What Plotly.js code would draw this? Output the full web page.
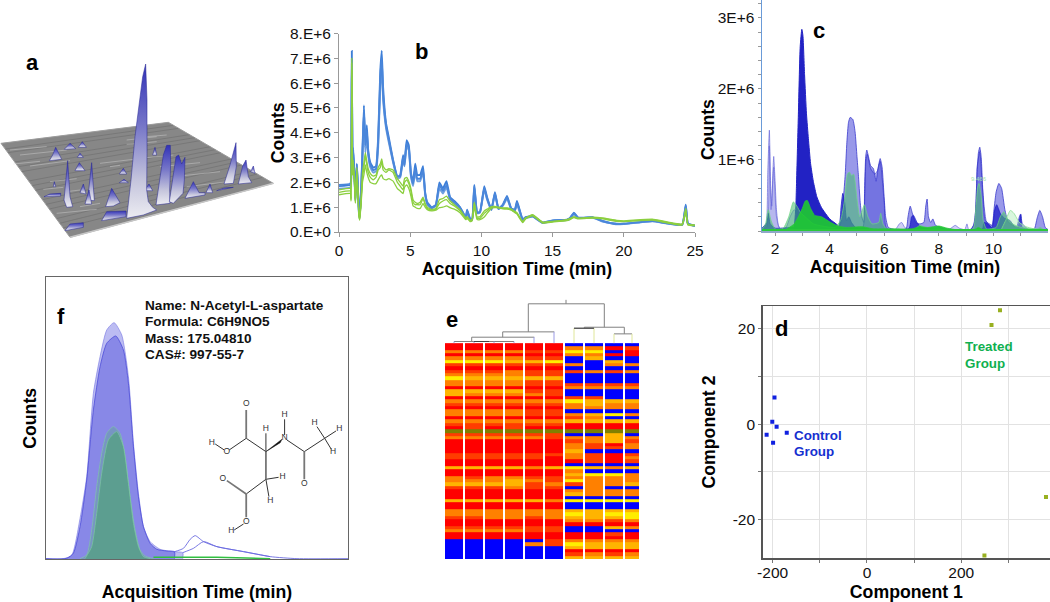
<!DOCTYPE html>
<html><head><meta charset="utf-8">
<script src="https://cdn.plot.ly/plotly-3.0.1.min.js"></script>
<style>html,body{margin:0;padding:0;background:#fff}</style></head>
<body><div id="chart" style="width:1050px;height:602px"></div>
<script>
const FONT='"Liberation Sans", Arial, sans-serif';
// ---------- panel b ----------
const bTime=[0,0.8,0.85,0.9,0.95,1.0,1.1,1.15,1.25,1.3,
1.4,1.45,1.55,1.65,1.75,1.85,1.95,2.05,2.2,2.4,
2.6,2.75,2.9,3.0,3.1,3.3,3.5,3.8,4.1,4.3,
4.5,4.6,4.75,4.9,5.05,5.2,5.35,5.5,5.7,5.9,
6.05,6.2,6.5,6.8,7.05,7.3,7.55,7.8,8.1,8.5,
8.9,9.0,9.2,9.35,9.5,9.7,9.9,10.2,10.4,10.7,
10.95,11.2,11.5,11.8,12.1,12.35,12.5,12.9,13.1,13.6,
14.3,15,16,16.2,16.5,16.8,17.8,18.5,19.5,20,
22,24.1,24.35,24.5,25];
const bBlue1=[1.85,1.9,2.15,7.3,3.0,3.3,2.1,1.3,2.75,2.2,
0.8,0.6,1.6,3.3,5.1,3.4,4.3,3.3,2.8,2.6,
2.65,3.8,6.5,7.3,5.8,4.4,3.8,2.9,2.2,2.3,
3.1,2.8,3.7,3.5,2.4,2.0,2.75,2.3,2.3,2.65,
1.6,1.2,1.0,1.1,2.0,1.75,2.05,1.4,1.25,1.0,
0.6,0.9,0.55,0.5,1.9,0.8,0.8,1.85,1.4,0.9,
1.6,0.95,1.1,1.45,0.95,0.9,1.25,0.5,0.6,0.65,
0.38,0.47,0.5,0.55,0.78,0.58,0.6,0.45,0.33,0.33,
0.45,0.3,1.1,0.35,0.25];
const bBlue2=[1.75,1.8,2.0,6.8,2.9,3.1,2.0,1.25,2.6,2.1,
0.75,0.55,1.5,3.1,4.7,3.2,3.9,3.1,2.6,2.4,
2.45,3.4,5.9,6.6,5.3,4.2,3.6,2.8,2.15,2.2,
2.9,2.65,3.45,3.3,2.25,1.85,2.4,2.05,2.05,2.4,
1.5,1.1,0.95,1.05,1.75,1.55,1.8,1.3,1.15,0.95,
0.55,0.8,0.5,0.48,1.75,0.75,0.78,1.7,1.3,0.88,
1.5,0.92,1.05,1.35,0.9,0.85,1.1,0.48,0.55,0.62,
0.36,0.45,0.48,0.52,0.72,0.56,0.58,0.42,0.31,0.32,
0.43,0.28,1.0,0.33,0.24];
const bBlue3=[1.9,1.95,2.1,7.0,3.2,3.4,2.2,1.35,2.7,2.15,
0.85,0.65,1.55,3.2,4.9,3.5,4.1,3.2,2.7,2.5,
2.55,3.6,6.2,7.0,5.5,4.3,3.7,2.85,2.25,2.25,
3.0,2.7,3.55,3.4,2.3,1.95,2.55,2.15,2.15,2.5,
1.55,1.15,0.97,1.08,1.9,1.65,1.9,1.35,1.2,0.98,
0.58,0.85,0.52,0.5,1.85,0.78,0.8,1.78,1.35,0.9,
1.55,0.93,1.08,1.4,0.92,0.88,1.18,0.5,0.58,0.63,
0.37,0.46,0.49,0.53,0.75,0.57,0.59,0.44,0.32,0.33,
0.44,0.29,1.05,0.34,0.25];
const bGreen1=[1.6,1.65,1.3,7.0,2.5,2.8,1.9,1.2,2.5,1.9,
0.7,0.5,1.2,2.2,2.6,3.1,2.7,2.4,2.2,2.1,
2.2,2.5,2.6,2.85,2.5,2.4,2.5,2.4,2.0,1.85,
1.7,2.0,2.1,1.95,1.65,1.2,1.1,1.1,1.1,1.35,
1.1,0.95,0.88,0.92,1.15,1.25,1.3,1.15,1.05,0.85,
0.55,0.6,0.45,0.5,1.15,0.55,0.55,0.75,0.85,1.0,
1.0,0.98,0.95,0.95,0.9,0.8,0.75,0.4,0.55,0.68,
0.38,0.42,0.48,0.52,0.6,0.55,0.58,0.55,0.45,0.43,
0.5,0.3,0.9,0.3,0.27];
const bGreen2=[1.5,1.55,1.25,6.5,2.3,2.6,1.8,1.15,2.35,1.8,
0.65,0.48,1.1,2.0,2.3,2.7,2.4,2.2,2.0,1.95,
1.95,2.1,2.25,2.3,2.15,2.1,2.15,2.05,1.75,1.65,
1.55,1.8,1.9,1.75,1.45,1.05,1.0,0.95,0.95,1.15,
1.0,0.9,0.85,0.88,0.98,1.0,1.05,0.98,0.92,0.78,
0.5,0.55,0.42,0.45,1.0,0.5,0.5,0.6,0.75,0.95,
0.98,0.97,0.93,0.92,0.88,0.78,0.72,0.38,0.52,0.65,
0.36,0.4,0.46,0.5,0.58,0.53,0.56,0.53,0.43,0.42,
0.48,0.28,0.8,0.28,0.26];
const bGreen3=[1.7,1.75,1.35,6.8,2.7,2.9,2.0,1.25,2.6,2.0,
0.75,0.52,1.3,2.4,2.8,3.2,2.85,2.55,2.35,2.25,
2.3,2.6,2.75,2.95,2.65,2.5,2.55,2.5,2.15,2.0,
1.85,2.15,2.2,2.05,1.75,1.3,1.2,1.15,1.2,1.4,
1.15,1.0,0.9,0.95,1.3,1.35,1.45,1.25,1.1,0.9,
0.58,0.62,0.48,0.52,1.2,0.6,0.62,0.85,0.92,1.02,
1.03,1.0,0.97,0.97,0.92,0.83,0.78,0.42,0.57,0.7,
0.4,0.43,0.5,0.54,0.62,0.56,0.6,0.57,0.47,0.45,
0.52,0.32,0.95,0.32,0.28];
const bTickVals=[0,1,2,3,4,5,6,7,8];
const bTickText=['0.E+0','1.E+6','2.E+6','3.E+6','4.E+6','5.E+6','6.E+6','7.E+6','8.E+6'];
const bXTicks=[0,5,10,15,20,25];
// ---------- panel c ----------
const cPale1X=[1.52,1.6,1.68,1.73,1.79,1.84,1.88,1.92,1.95,2.0,2.05,2.12,2.2,2.4,2.55,2.7,2.9,3.1,3.5,6.4,6.55,6.64,6.75,6.85,8.4,8.6,8.75,8.95,9.03,9.1,12];
const cPale1Y=[.02,.05,.1,.8,1.42,.6,.35,.85,1.05,.7,.3,.08,.03,.05,.2,.3,.2,.08,.03,.02,.1,.12,.05,.03,.03,.08,.04,.02,.1,.02,.02];
const cPale2X=[1.52,1.7,1.79,1.85,1.95,2.05,2.2,12];
const cPale2Y=[.02,.05,1.2,.3,.9,.2,.02,.02];
const cMid1X=[4.3,4.4,4.5,4.57,4.63,4.69,4.75,4.85,4.93,5.0,5.05,5.12,5.18,5.25,5.28,5.32,5.36,5.42,5.5,5.6,5.7,5.78,5.85,5.92,6.0,6.05,6.15,6.4,6.8,6.87,6.95,7.03,7.15,7.3,7.45,7.52,7.57,7.62,7.7,7.78,7.88,8.2,9.15,9.3,9.38,9.45,9.5,9.55,9.62,9.7,9.95,10.02,10.1,10.2,10.3,10.42,10.55,10.85,10.95,11,11.06,11.3,11.5,11.6,11.7,11.8,11.9,12];
const cMid1Y=[.02,.1,.45,.8,1.25,1.53,1.6,1.57,1.4,1.05,.8,.4,.2,.12,.6,1.05,1.14,1.05,.92,.88,.7,.9,1.02,.9,.45,.2,.05,.02,.03,.2,.35,.25,.12,.1,.12,.35,.45,.2,.12,.17,.08,.03,.02,.1,.6,1.1,1.18,1.05,.5,.15,.08,.3,.55,.67,.6,.3,.12,.06,.2,.24,.1,.02,.03,.18,.29,.2,.05,.02];
const cMid2X=[5.2,5.25,5.33,5.38,5.5,5.65,5.75,5.85,6.0,6.1,9.2,9.4,9.5,9.6,9.75,10.0];
const cMid2Y=[.02,.1,1.0,1.08,.88,.8,.85,.98,.4,.03,.03,.9,1.12,.6,.12,.02];
const cDeepX=[1.52,1.7,1.75,1.82,2.0,2.6,4.3,4.42,4.48,4.55,4.62,4.7,4.8,4.95,6.9,7.0,7.07,7.2,7.35,9.6,9.65,9.8,9.95,10.05,10.12,10.25,10.4,10.6,10.8,10.9,11,11.05,11.3,12];
const cDeepY=[.04,.12,.25,.1,.04,.05,.03,.35,.53,.4,.15,.2,.12,.05,.03,.2,.22,.12,.05,.03,.12,.1,.05,.3,.37,.25,.18,.15,.05,.05,.23,.05,.02,.02];
const cDarkX=[2.7,2.76,2.78,2.85,2.92,2.98,3.02,3.08,3.15,3.22,3.3,3.4,3.53,3.7,4.0,4.3,4.4];
const cDarkY=[.02,.34,.6,1.6,2.6,2.84,2.75,2.2,1.65,1.3,.95,.7,.48,.33,.17,.08,.02];
const cGreen1X=[1.52,1.65,1.75,1.85,2.0,2.3,2.5,2.67,2.8,2.95,3.1,3.4,4.2,4.4,4.55,4.65,4.72,4.8,4.88,5.0,5.1,5.2,5.27,5.4,5.55,5.8,5.87,5.95,6.1,7.1,7.3,7.5,9.25,9.35,9.42,9.47,9.55,9.62,9.75,10.1,10.25,10.38,10.5,10.7,11,11.6,11.72,11.85,12];
const cGreen1Y=[.02,.1,.3,.15,.03,.04,.2,.41,.35,.25,.2,.1,.05,.15,.45,.8,.83,.78,.8,.45,.2,.3,.37,.2,.1,.12,.25,.1,.02,.02,.08,.05,.03,.3,.6,.67,.5,.15,.03,.05,.2,.27,.18,.1,.05,.03,.05,.02,.02];
const cGreen2X=[2.4,2.7,2.85,3.0,3.1,3.18,3.3,3.45,3.7,4.0,4.3,4.6,5.2,5.6,6.2,7.0,7.3,7.6,8.0,8.3,8.7,9.3,9.45,9.6,10,11,12];
const cGreen2Y=[.02,.1,.2,.32,.42,.43,.32,.22,.2,.13,.07,.05,.06,.03,.03,.03,.06,.05,.07,.04,.015,.02,.05,.02,.02,.02,.02];
const cGreen3X=[10.3,10.45,10.62,10.75,10.95,11.2,11.6];
const cGreen3Y=[.03,.15,.29,.25,.12,.06,.02];
const cBaseX=[1.52,12];
const cBaseY=[.015,.015];
const cYTicks=[0,.2,.4,.6,.8,1,1.2,1.4,1.6,1.8,2,2.2,2.4,2.6,2.8,3,3.2];
const cYText=['','','','','','1E+6','','','','','2E+6','','','','','3E+6',''];
const cXTicks=[2,3,4,5,6,7,8,9,10,11];
const cXText=['2','','4','','6','','8','','10',''];
// ---------- panel d ----------
const controlC1=[-196,-200.7,-191.5,-212.7,-199,-170];
const controlC2=[5.6,0.5,-0.56,-2.24,-3.9,-1.8];
const treatedC1=[282,264,379.5,249];
const treatedC2=[23.9,20.8,-15.3,-27.6];
const dXTicks=[-200,-100,0,100,200,300];
const dXText=['-200','','0','','200',''];
const dYTicks=[-20,-10,0,10,20];
const dYText=['-20','','0','','20'];
// ---------- panel e ----------
const heatRows=["1111110000","1111113312","3333225501","1111113311","3333220400","5554450040","2222223033","1111110000","2223222323","3333220000",
"5444440000","3333220000","3333222222","1111113333","4444220000","4333320000","1111112200","3333335444","2222223433","1111113333",
"3333220000","3333223453","1111112300","3333334444","2222221111","1212111111","6666666666","2222220040","3333323343","1111112342",
"1111113213","1111113223","1111114000","2222223212","2222213213","1111111212","1111110000","4444345434","1111113000","1111114553",
"3233223333","3334325333","4444232334","2223220300","1111113333","1111114333","1111110000","4444435555","1111110000","1111110000",
"3333334444","3333335455","2233234445","1111113323","1111111111","2222220043","3333220000","1111111121","1111111111","0000023333",
"0000325444","0000004444","0000001111","0000002323","0000004444"];
const heatEdges=[-1,19,39,59,79,99,119,139,159,179,195];
const heatColors=['#0000ff','#ff0000','#ff3c00','#ff8000','#ffb400','#ffee00','#808000'];
const dendGrayX=[121,121,null,83.3,159.3,null,83.3,83.3,null,57.7,109.3,null,57.7,57.7,null,26.7,89.3,null,26.7,26.7,null,9,69,null,159.3,159.3,null,139.3,179.3,null,139.3,139.3,null,129,149,null,179.3,179.3,null,169,187];
const dendGrayY=[-13.55,-12.35,null,-12.35,-12.35,null,-12.35,-3.9,null,-3.9,-3.9,null,-3.9,-2.3,null,-2.3,-2.3,null,-2.3,-1,null,-1,-1,null,-12.35,-5.3,null,-5.3,-5.3,null,-5.3,-5,null,-5,-5,null,-5.3,-3.3,null,-3.3,-3.3];
const dendDarkX=[29,44,null,129,149];
const dendDarkY=[-1,-1,null,-5,-5];
const dendBlueX=[9,9,null,29,29,null,49,49,null,69,69,null,89,89,null,109,109];
const dendBlueY=[-1,-.5,null,-1,-.5,null,-1,-.5,null,-1,-.5,null,-2.3,-.5,null,-3.9,-.5];
const dendYellowX=[129,129,null,149,149,null,169,169,null,187,187];
const dendYellowY=[-5,-.5,null,-5,-.5,null,-3.3,-.5,null,-3.3,-.5];
// ---------- panel f ----------
const fOuterX=[48,100,125,150,170,190,210,230,252,275,295,310,325,340,360,390,430,458,458];
const fOuterH=[2,2,12,123,248,498,608,688,710,673,548,348,198,98,53,30,23,20,2];
const fInnerX=[48,110,130,150,170,190,210,230,257,280,295,310,325,340,360,380,410,433,433];
const fInnerH=[2,3,18,98,238,448,578,648,670,628,528,338,188,98,48,30,25,23,2];
const fGreenAX=[150,170,185,200,215,230,250,270,285,300,315,330,345,370];
const fGreenAH=[2,13,88,218,318,378,398,378,308,188,88,28,10,2];
const fGreenBX=[165,185,200,215,235,260,280,295,310,325,340,360];
const fGreenBH=[2,38,138,258,358,383,338,228,108,38,8,2];
const fBumpAX=[430,460,480,495,520,560,640,720,800,953];
const fBumpAH=[22,33,60,71,53,38,23,8,2,2];
const fBumpBX=[458,490,520,560,640,720];
const fBumpBH=[20,33,53,38,23,8];
const fBaseX=[370,560,720];
const fBaseH=[6,6,2];
const molThinX=[555,582,null,597,648,null,648,707,null,707,707,null,763,763,null,770,822,null,822,883,null,883,860,null,883,917,null,883,903,null,707,745,null,707,716,null,707,648,null,640,612];
const molThinZ=[522,540,null,540,505,null,505,545,null,545,490,null,495,448,null,510,545,null,545,505,null,505,470,null,505,483,null,505,538,null,628,622,null,628,680,null,628,672,null,762,780];
const molThickX=[648,648,null,822,822,null,648,590,null,707,707,null,648,648];
const molThickZ=[505,420,null,545,628,null,672,632,null,545,628,null,672,742];
const molWedgeX=[707,755,750,707];
const molWedgeZ=[545,508,518,545];
const molAtomX=[545,590,648,707,763,763,853,927,908,822,757,720,578,648,603];
const molAtomZ=[518,545,403,478,505,436,458,476,547,643,622,693,628,755,783];
const molAtomT=['H','O','O','H','N','H','H','H','H','O','H','H','O','O','H'];
const fInfo=['Name: N-Acetyl-L-aspartate','Formula: C6H9NO5','Mass: 175.04810','CAS#: 997-55-7'];
const fInfoZ=[107,156,205,254];
// ---------- panel a ----------
const plateX=[3,505,820,210,3];
const plateY=[310,247,430,592,310];
const darkStripes=[[24,338,536,265],[44,366,568,284],[65,395,600,302],[86,423,631,320],[106,451,662,338],[127,479,694,357],[148,507,725,375],[169,536,757,393],[189,564,788,412],[16,327,520,256],[55,380,584,293],[96,437,646,329],[138,493,710,366],[179,550,772,402]];
const stripes=[[30,330,140,320],[60,345,200,330],[380,313,470,305],[90,378,210,362],[40,372,120,364],[300,370,400,358],[420,355,520,345],[150,425,230,416],[480,380,600,368],
[540,408,660,395],[130,448,190,442],[240,500,300,490],[170,520,290,508],[560,440,700,423],[440,290,500,285],[380,300,470,290],[200,455,240,450],[330,380,360,376]];
const mainPeak={x:[380,393,405,418,428,437,441,441,440,445,458,470,430,380],y:[535,420,290,180,110,72,180,340,450,485,502,510,525,535]};
const peaks=[
{x:[468,478,490,500,511,512,509,510,468],y:[495,430,345,316,316,370,450,490,495]},
{x:[508,517,528,536,545,555,553,549,520,508],y:[485,420,350,345,372,352,420,460,490,485]},
{x:[672,690,708,709,700,672],y:[432,375,308,380,430,432]},
{x:[715,728,738,745,755,715],y:[432,378,360,410,428,432]},
{x:[752,760,765,752],y:[395,378,400,395]},
{x:[148,158,167,185,148],y:[362,345,322,358,362]},
{x:[193,210,227,193],y:[328,310,326,328]},
{x:[235,247,259,235],y:[322,305,322,322]},
{x:[232,240,250,232],y:[352,340,352,352]},
{x:[225,238,255,225],y:[392,368,392,392]},
{x:[192,203,210,218,200,192],y:[480,362,470,500,502,480]},
{x:[263,275,283,263],y:[480,368,482,480]},
{x:[317,335,360,340,317],y:[500,445,488,498,500]},
{x:[305,320,378,378,305],y:[542,515,513,530,542]},
{x:[195,210,250,250,195],y:[572,552,548,562,572]},
{x:[555,580,597,615,615,555],y:[475,425,458,458,465,475]},
{x:[433,447,458,433],y:[452,432,452,452]},
{x:[358,370,380,358],y:[402,385,402,402]},
{x:[358,372,385,358],y:[428,418,428,428]},
{x:[458,465,470,458],y:[345,322,345,345]},
{x:[160,163,167,160],y:[440,425,440,440]},
{x:[240,250,258,240],y:[458,432,462,458]},
{x:[255,267,275,255],y:[492,450,492,492]},
{x:[618,630,638,618],y:[458,432,458,458]},
{x:[650,672,700,650],y:[452,444,442,452]},
{x:[132,150,182,182,132],y:[470,462,460,468,470]}];

// ---------- layout helpers ----------
const W=1050,H=602;
const dx=(a,b)=>[a/W,b/W];
const dy=(top,bot)=>[1-bot/H,1-top/H];
const hidden={visible:false,fixedrange:true};
const traces=[];
// panel a
traces.push({type:'scatter',mode:'lines',x:plateX,y:plateY,fill:'toself',fillcolor:'#878787',line:{color:'#9c9c9c',width:1},xaxis:'x',yaxis:'y'});
darkStripes.forEach(s=>traces.push({type:'scatter',mode:'lines',x:[s[0],s[2]],y:[s[1],s[3]],line:{color:'rgba(70,70,70,0.3)',width:0.8},xaxis:'x',yaxis:'y'}));
stripes.forEach(s=>traces.push({type:'scatter',mode:'lines',x:[s[0],s[2]],y:[s[1],s[3]],line:{color:'rgba(220,220,220,0.5)',width:0.8},xaxis:'x',yaxis:'y'}));
traces.push({type:'scatter',mode:'lines',x:[210,820],y:[592,430],line:{color:'#c6c6c6',width:1.5},xaxis:'x',yaxis:'y'});
const peakScale=[[0,'#ececf2'],[0.25,'#c4c4dc'],[0.6,'#7676c8'],[1,'#3232b8']];
peaks.concat([mainPeak]).forEach(p=>traces.push({type:'scatter',mode:'lines',x:p.x,y:p.y,fill:'toself',
  fillgradient:{type:'vertical',colorscale:peakScale},line:{color:'rgba(40,40,150,0.75)',width:0.7},xaxis:'x',yaxis:'y'}));
// panel b
[bBlue1,bBlue2,bBlue3].forEach((v,i)=>traces.push({type:'scatter',mode:'lines',x:bTime,y:v,line:{color:['#3c7ed8','#6fa0e0','#4a86da'][i],width:1.9,shape:'spline',smoothing:0.35},xaxis:'x2',yaxis:'y2'}));
[bGreen1,bGreen2,bGreen3].forEach((v,i)=>traces.push({type:'scatter',mode:'lines',x:bTime,y:v,line:{color:'#8ccf3f',width:1.3,shape:'spline',smoothing:0.35},xaxis:'x2',yaxis:'y2'}));
// panel c
const cFill=(x,y,fc,lc,w)=>traces.push({type:'scatter',mode:'lines',x,y,fill:'tozeroy',fillcolor:fc,line:{color:lc,width:w,shape:'spline',smoothing:0.5},xaxis:'x3',yaxis:'y3'});
cFill(cPale1X,cPale1Y,'rgba(130,130,225,0.38)','rgba(95,95,215,0.8)',0.8);
cFill(cPale2X,cPale2Y,'rgba(130,130,225,0.3)','rgba(95,95,215,0.7)',0.8);
cFill(cMid1X,cMid1Y,'rgba(70,70,215,0.55)','rgba(60,60,205,0.8)',1);
cFill(cMid2X,cMid2Y,'rgba(70,70,215,0.45)','rgba(50,50,200,0.8)',0.8);
cFill(cDarkX,cDarkY,'#2222c4','#2222c4',1);
cFill(cDeepX,cDeepY,'rgba(30,30,200,0.75)','#2020c8',0.8);
cFill(cGreen3X,cGreen3Y,'rgba(160,235,170,0.4)','#9fe6a6',1);
cFill(cGreen1X,cGreen1Y,'rgba(70,190,110,0.55)','rgba(110,215,130,0.9)',0.8);
cFill(cGreen2X,cGreen2Y,'rgba(30,200,50,0.92)','#2ac83a',0.8);
traces.push({type:'scatter',mode:'lines',x:cBaseX,y:cBaseY,line:{color:'#2ac83a',width:2},xaxis:'x3',yaxis:'y3'});
// panel d
traces.push({type:'scatter',mode:'markers',x:controlC1,y:controlC2,marker:{symbol:'square',size:4,color:'#1020e0'},xaxis:'x4',yaxis:'y4'});
traces.push({type:'scatter',mode:'markers',x:treatedC1,y:treatedC2,marker:{symbol:'square',size:4,color:'#98b020'},xaxis:'x4',yaxis:'y4'});
// panel e
const heatZ=heatRows.map(r=>r.split('').map(Number));
traces.push({type:'heatmap',x:heatEdges,y:heatRows.map((_,i)=>i),z:heatZ,zmin:0,zmax:6,xgap:2,showscale:false,
  colorscale:heatColors.map((c,i)=>[i/6,c]),xaxis:'x5',yaxis:'y5',hoverinfo:'skip'});
[[dendGrayX,dendGrayY,'#808080'],[dendBlueX,dendBlueY,'#9a9ae6'],[dendYellowX,dendYellowY,'#dfe69a'],[dendDarkX,dendDarkY,'#444']].forEach(d=>
  traces.push({type:'scatter',mode:'lines',x:d[0],y:d[1],connectgaps:false,line:{color:d[2],width:1},xaxis:'x5',yaxis:'y5'}));
// panel f
const fFill=(x,y,fc,lc,w)=>traces.push({type:'scatter',mode:'lines',x,y,fill:'tozeroy',fillcolor:fc,line:{color:lc,width:w,shape:'spline',smoothing:0.6},xaxis:'x6',yaxis:'y6'});
fFill(fOuterX,fOuterH,'rgba(115,115,228,0.48)','rgba(110,110,225,0.7)',0.8);
fFill(fInnerX,fInnerH,'rgba(105,105,225,0.62)','rgba(70,70,215,0.9)',0.8);
fFill(fGreenAX,fGreenAH,'rgba(90,175,130,0.35)','rgba(130,210,160,0.7)',0.8);
fFill(fGreenBX,fGreenBH,'rgba(75,165,110,0.6)','rgba(130,210,160,0.7)',0.8);
[[fBumpAX,fBumpAH],[fBumpBX,fBumpBH]].forEach(b=>traces.push({type:'scatter',mode:'lines',x:b[0],y:b[1],line:{color:'#6a6ae0',width:0.9,shape:'spline',smoothing:0.6},xaxis:'x6',yaxis:'y6'}));
traces.push({type:'scatter',mode:'lines',x:fBaseX,y:fBaseH,line:{color:'#30c040',width:1.5},xaxis:'x6',yaxis:'y6'});
const base=868, up=a=>a.map(v=>v===null?null:base-v);
traces.push({type:'scatter',mode:'lines',x:molThinX,y:up(molThinZ),line:{color:'#333',width:1},xaxis:'x6',yaxis:'y6'});
traces.push({type:'scatter',mode:'lines',x:molThickX,y:up(molThickZ),line:{color:'#777',width:1.8},xaxis:'x6',yaxis:'y6'});
traces.push({type:'scatter',mode:'lines',x:molWedgeX,y:up(molWedgeZ),fill:'toself',fillcolor:'#111',line:{color:'#111',width:0.5},xaxis:'x6',yaxis:'y6'});
traces.push({type:'scatter',mode:'text',x:molAtomX,y:up(molAtomZ),text:molAtomT,textfont:{family:FONT,size:8.5,color:'#333'},textposition:'middle center',xaxis:'x6',yaxis:'y6'});

const tickFont={family:FONT,size:15.5,color:'#111'};
const titleFont={family:FONT,size:17.7,color:'#000',weight:700};
const txt=(s,px,py,o)=>Object.assign({text:s,x:px/W,y:1-py/H,xref:'paper',yref:'paper',showarrow:false,xanchor:'center',yanchor:'middle',font:{family:FONT,size:22,color:'#000'}},o||{});
const annotations=[
 txt('<b>a</b>',32,63),txt('<b>b</b>',421.7,51.7),txt('<b>c</b>',819,31),
 txt('<b>d</b>',781.7,328),txt('<b>e</b>',451.7,319),txt('<b>f</b>',61,316.7),
 txt('<b>Counts</b>',708,130,{textangle:-90,font:{family:FONT,size:17.7,color:'#000'}}),
 txt('9.466',978.7,179.5,{font:{family:FONT,size:6,color:'#9fe6a6'}}),
 txt('<b>Control</b>',792,435,{xanchor:'left',font:{family:FONT,size:13.4,color:'#1530d0'}}),
 txt('<b>Group</b>',792,451.5,{xanchor:'left',font:{family:FONT,size:13.4,color:'#1530d0'}}),
 txt('<b>Treated</b>',963,347,{xanchor:'left',font:{family:FONT,size:13.4,color:'#10b050'}}),
 txt('<b>Group</b>',963,363.5,{xanchor:'left',font:{family:FONT,size:13.4,color:'#10b050'}})
].concat(fInfo.map((t,i)=>txt('<b>'+t+'</b>',143,270+fInfoZ[i]/3,{xanchor:'left',font:{family:FONT,size:13.6,color:'#111'}})));

const layout={width:W,height:H,margin:{l:0,r:0,t:0,b:0},paper_bgcolor:'#fff',plot_bgcolor:'rgba(0,0,0,0)',showlegend:false,hovermode:false,annotations,
 xaxis:Object.assign({domain:dx(0,290),range:[0,870],anchor:'y'},hidden),
 yaxis:Object.assign({domain:dy(40,250),range:[630,0],anchor:'x'},hidden),
 xaxis2:{domain:dx(339,695),range:[0,25],anchor:'y2',showgrid:false,zeroline:false,showline:true,linecolor:'#999',ticks:'outside',ticklen:4,tickcolor:'#999',tickvals:bXTicks,tickfont:tickFont,title:{text:'Acquisition Time (min)',font:titleFont,standoff:3}},
 yaxis2:{domain:dy(33.5,232),range:[0,8],anchor:'x2',showgrid:false,zeroline:false,showline:true,linecolor:'#999',ticks:'outside',ticklen:4,tickcolor:'#999',tickvals:bTickVals,ticktext:bTickText,tickfont:tickFont,title:{text:'Counts',font:titleFont,standoff:0}},
 xaxis3:{domain:dx(762,1048),range:[1.52,12],anchor:'y3',showgrid:false,zeroline:false,showline:true,linecolor:'#8fa8c8',linewidth:1.5,ticks:'outside',ticklen:3,tickcolor:'#999',tickvals:cXTicks,ticktext:cXText,tickfont:tickFont,title:{text:'Acquisition Time (min)',font:titleFont,standoff:4}},
 yaxis3:{domain:dy(0,231),range:[0,3.253],anchor:'x3',showgrid:false,zeroline:false,showline:true,linecolor:'#6a9bd8',linewidth:1.5,ticks:'outside',ticklen:3,tickcolor:'#999',tickvals:cYTicks,ticktext:cYText,tickfont:tickFont},
 xaxis4:{domain:dx(762.7,1050),range:[-221,388],anchor:'y4',showgrid:true,gridcolor:'#e2e2e2',zeroline:false,showline:true,mirror:true,linecolor:'#555',linewidth:1.5,ticks:'outside',ticklen:3,tickcolor:'#777',tickvals:dXTicks,ticktext:dXText,tickfont:tickFont,ticklabelstandoff:-3,title:{text:'Component 1',font:titleFont,standoff:7}},
 yaxis4:{domain:dy(306,558),range:[-28.1,24.8],anchor:'x4',showgrid:true,gridcolor:'#e2e2e2',zeroline:false,showline:true,mirror:true,linecolor:'#555',linewidth:1.5,ticks:'outside',ticklen:3,tickcolor:'#777',tickvals:dYTicks,ticktext:dYText,tickfont:tickFont,title:{text:'Component 2',font:titleFont,standoff:12}},
 xaxis5:Object.assign({domain:dx(444,640),range:[-1,195],anchor:'y5'},hidden),
 yaxis5:Object.assign({domain:dy(299,559),range:[64.5,-13.8],anchor:'x5'},hidden),
 xaxis6:{domain:dx(46,348),range:[48,953],anchor:'y6',showgrid:false,zeroline:false,showline:true,mirror:true,linecolor:'#666',linewidth:1,ticks:'',showticklabels:false,title:{text:'Acquisition Time (min)',font:titleFont,standoff:26}},
 yaxis6:{domain:dy(277.3,559.3),range:[0,846],anchor:'x6',showgrid:false,zeroline:false,showline:true,mirror:true,linecolor:'#666',linewidth:1,ticks:'',showticklabels:false,title:{text:'Counts',font:titleFont,standoff:3}}
};
Plotly.newPlot('chart',traces,layout,{staticPlot:true,displayModeBar:false});
</script></body></html>
